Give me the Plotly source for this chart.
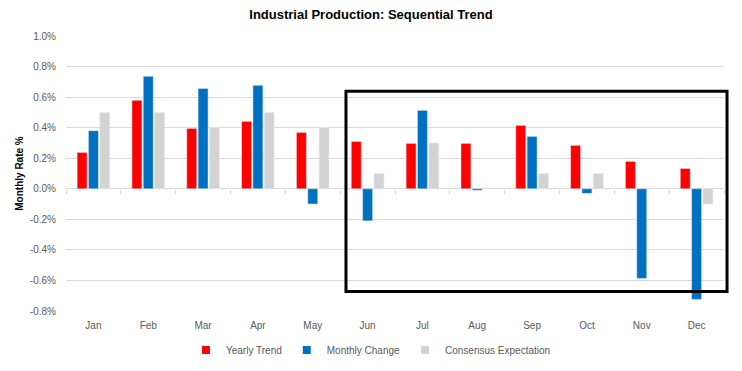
import plotly.graph_objects as go

months = ["Jan", "Feb", "Mar", "Apr", "May", "Jun", "Jul", "Aug", "Sep", "Oct", "Nov", "Dec"]
yearly_trend = [0.238, 0.579, 0.395, 0.441, 0.369, 0.31, 0.297, 0.297, 0.415, 0.284, 0.179, 0.133]
monthly_change = [0.38, 0.736, 0.657, 0.677, -0.10, -0.21, 0.513, -0.01, 0.343, -0.03, -0.587, -0.724]
consensus = [0.5, 0.5, 0.4, 0.5, 0.4, 0.1, 0.3, None, 0.1, 0.1, None, -0.1]
series_names = ["Yearly Trend", "Monthly Change", "Consensus Expectation"]
series_colors = ["#FF0000", "#0070C0", "#D3D3D3"]
y_ticks = [-0.8, -0.6, -0.4, -0.2, 0.0, 0.2, 0.4, 0.6, 0.8, 1.0]
y_tick_labels = ["-0.8%", "-0.6%", "-0.4%", "-0.2%", "0.0%", "0.2%", "0.4%", "0.6%", "0.8%", "1.0%"]
y_min, y_max = -0.8, 1.0
x_range = [-0.5, len(months) - 0.5]

fig = go.Figure()
for name, vals, col in zip(series_names, [yearly_trend, monthly_change, consensus], series_colors):
    fig.add_trace(go.Bar(name=name, x=months, y=vals, marker_color=col, showlegend=False,
                         legendgroup=name))
# legend entries with small square swatches
for name, col in zip(series_names, series_colors):
    fig.add_trace(go.Scatter(name=name, x=[months[0]], y=[None], mode="markers",
                             marker=dict(symbol="square", size=8, color=col),
                             legendgroup=name, hoverinfo="skip"))
# invisible helper trace to carry the category axis drawn on the zero line (tick marks)
fig.add_trace(go.Scatter(x=months, y=[None] * len(months), xaxis="x2", yaxis="y",
                         showlegend=False, hoverinfo="skip", mode="lines"))

grey = "#595959"
fig.update_layout(
    width=742, height=371,
    paper_bgcolor="white", plot_bgcolor="white",
    margin=dict(l=66, r=18, t=36, b=60, autoexpand=False),
    barmode="group", bargap=0.38, bargroupgap=0.12,
    font=dict(family="Liberation Sans, Arial, sans-serif", size=10, color=grey),
    title=dict(text="<b>Industrial Production: Sequential Trend</b>", x=0.5, xanchor="center",
               y=0.962, yanchor="middle", font=dict(size=13, color="black")),
    legend=dict(orientation="h", x=0.4635, xanchor="center", y=-0.142, yanchor="middle",
                font=dict(size=10, color=grey), itemwidth=30, traceorder="normal"),
    xaxis=dict(type="category", range=x_range, showgrid=False, ticks="",
               tickfont=dict(size=10, color=grey),
               showline=False, automargin=False, ticklabelstandoff=7),
    xaxis2=dict(type="category", overlaying="x", range=x_range, anchor="free",
                position=(0 - y_min) / (y_max - y_min), side="bottom",
                showgrid=False, showline=False, showticklabels=False,
                ticks="outside", tickson="boundaries", ticklen=4, tickcolor="#D9D9D9",
                automargin=False),
    yaxis=dict(range=[y_min, y_max], tickvals=y_ticks, ticktext=y_tick_labels,
               showgrid=True, gridcolor="#D9D9D9", gridwidth=1,
               zeroline=True, zerolinecolor="#D9D9D9", zerolinewidth=1,
               tickfont=dict(size=10, color=grey), automargin=False, ticklabelstandoff=9,
               title=dict(text="<b>Monthly Rate %</b>", font=dict(size=10, color="black"), standoff=4)),
)

# highlight box (annotation rectangle)
fig.add_shape(type="rect", xref="paper", yref="y", x0=0.4255, x1=1.0046, y0=-0.673, y1=0.638,
              line=dict(color="black", width=3), fillcolor="rgba(0,0,0,0)", layer="above")

fig.write_html("out.html", post_script="document.body.style.margin='0';",
               config={"displayModeBar": False})
